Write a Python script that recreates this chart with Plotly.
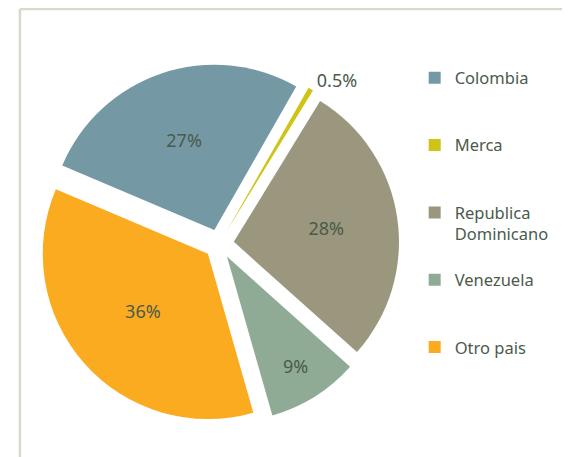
import plotly.graph_objects as go

# Data
categories = ["Colombia", "Merca", "Republica<br>Dominicano", "Venezuela", "Otro pais"]
values = [27, 0.5, 28, 9, 36]
pct_labels = ["27%", "0.5%", "28%", "9%", "36%"]
colors = ["#7598a5", "#cfc315", "#9a977e", "#8fab95", "#fbab20"]

text_color = "#4b5a4b"
# the page body adds an 8px margin, so the figure is sized to fit the window
W, H = 562, 449

# legend entries padded with blank lines to mimic the spacing of the original legend
legend_labels = []
for c in categories:
    if "<br>" in c:
        legend_labels.append("<br>" + c)
    else:
        legend_labels.append("<br>" + c + "<br> ")

positions = ["outside" if v < 2 else "inside" for v in values]

fig = go.Figure(
    go.Pie(
        labels=legend_labels,
        values=values,
        text=pct_labels,
        textinfo="text",
        textposition=positions,
        sort=False,
        direction="clockwise",
        rotation=-67,
        pull=[0.09] * len(values),
        marker=dict(colors=colors, line=dict(width=0)),
        textfont=dict(family="Noto Sans", size=18, color=text_color),
        insidetextorientation="horizontal",
        domain=dict(x=[0.045, 0.6927], y=[0.069, 0.8797]),
        hoverinfo="label+percent",
    )
)

fig.update_layout(
    width=W,
    height=H,
    margin=dict(l=0, r=0, t=0, b=0),
    paper_bgcolor="white",
    plot_bgcolor="white",
    showlegend=True,
    legend=dict(
        x=405 / W,
        xanchor="left",
        y=1 - 31 / H,
        yanchor="top",
        valign="middle",
        font=dict(family="Noto Sans", size=16.5, color=text_color),
        bgcolor="rgba(0,0,0,0)",
    ),
    font=dict(family="Noto Sans", color=text_color),
    shapes=[
        dict(type="line", xref="paper", yref="paper", x0=6 / W, x1=1.02, y0=1 - 1 / H, y1=1 - 1 / H,
             line=dict(color="#d9d9c5", width=2.5)),
        dict(type="line", xref="paper", yref="paper", x0=6 / W, x1=6 / W, y0=-0.02, y1=1 - 1 / H,
             line=dict(color="#d9d9c5", width=2.5)),
    ],
)

fig.write_html("out.html")
